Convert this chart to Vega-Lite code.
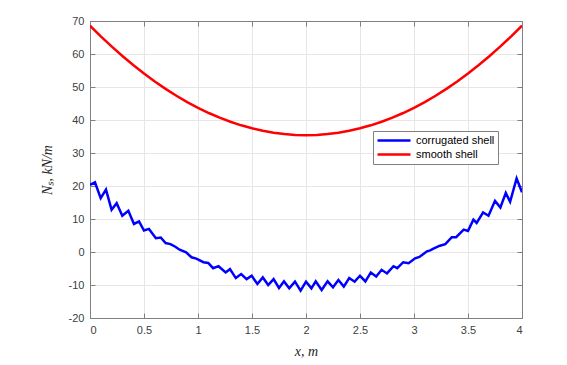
{
  "$schema": "https://vega.github.io/schema/vega-lite/v6.json",
  "autosize": "none",
  "width": 432,
  "height": 297,
  "padding": {"left": 90, "top": 21, "right": 45, "bottom": 47},
  "background": "white",
  "config": {
    "view": {"stroke": "#808080", "strokeWidth": 1},
    "axis": {
      "domainColor": "#808080",
      "tickColor": "#808080",
      "gridColor": "#e6e6e6",
      "gridWidth": 1,
      "labelFont": "Liberation Sans",
      "labelFontSize": 11,
      "labelColor": "#404040",
      "titleFont": "Liberation Serif",
      "titleFontStyle": "italic",
      "titleFontWeight": "normal",
      "titleFontSize": 14,
      "titleColor": "#262626"
    }
  },
  "data": {"values": [
    {"x": 0.0, "N": 20.3, "s": "corrugated shell"},
    {"x": 0.046, "N": 21.1, "s": "corrugated shell"},
    {"x": 0.099, "N": 16.3, "s": "corrugated shell"},
    {"x": 0.148, "N": 18.9, "s": "corrugated shell"},
    {"x": 0.2, "N": 12.8, "s": "corrugated shell"},
    {"x": 0.247, "N": 14.8, "s": "corrugated shell"},
    {"x": 0.299, "N": 11.0, "s": "corrugated shell"},
    {"x": 0.355, "N": 12.5, "s": "corrugated shell"},
    {"x": 0.407, "N": 8.5, "s": "corrugated shell"},
    {"x": 0.454, "N": 9.3, "s": "corrugated shell"},
    {"x": 0.5, "N": 6.5, "s": "corrugated shell"},
    {"x": 0.546, "N": 7.0, "s": "corrugated shell"},
    {"x": 0.61, "N": 4.2, "s": "corrugated shell"},
    {"x": 0.655, "N": 4.4, "s": "corrugated shell"},
    {"x": 0.70, "N": 2.7, "s": "corrugated shell"},
    {"x": 0.745, "N": 2.4, "s": "corrugated shell"},
    {"x": 0.79, "N": 1.6, "s": "corrugated shell"},
    {"x": 0.83, "N": 0.7, "s": "corrugated shell"},
    {"x": 0.89, "N": -0.1, "s": "corrugated shell"},
    {"x": 0.94, "N": -1.6, "s": "corrugated shell"},
    {"x": 0.985, "N": -2.0, "s": "corrugated shell"},
    {"x": 1.05, "N": -3.1, "s": "corrugated shell"},
    {"x": 1.095, "N": -3.3, "s": "corrugated shell"},
    {"x": 1.14, "N": -4.9, "s": "corrugated shell"},
    {"x": 1.19, "N": -4.3, "s": "corrugated shell"},
    {"x": 1.256, "N": -6.2, "s": "corrugated shell"},
    {"x": 1.296, "N": -5.2, "s": "corrugated shell"},
    {"x": 1.35, "N": -7.9, "s": "corrugated shell"},
    {"x": 1.40, "N": -6.7, "s": "corrugated shell"},
    {"x": 1.45, "N": -8.2, "s": "corrugated shell"},
    {"x": 1.497, "N": -7.2, "s": "corrugated shell"},
    {"x": 1.55, "N": -9.7, "s": "corrugated shell"},
    {"x": 1.60, "N": -7.7, "s": "corrugated shell"},
    {"x": 1.65, "N": -10.0, "s": "corrugated shell"},
    {"x": 1.70, "N": -8.2, "s": "corrugated shell"},
    {"x": 1.75, "N": -10.9, "s": "corrugated shell"},
    {"x": 1.796, "N": -8.9, "s": "corrugated shell"},
    {"x": 1.845, "N": -11.0, "s": "corrugated shell"},
    {"x": 1.898, "N": -9.0, "s": "corrugated shell"},
    {"x": 1.95, "N": -11.7, "s": "corrugated shell"},
    {"x": 2.0, "N": -9.0, "s": "corrugated shell"},
    {"x": 2.05, "N": -11.0, "s": "corrugated shell"},
    {"x": 2.09, "N": -8.9, "s": "corrugated shell"},
    {"x": 2.145, "N": -11.5, "s": "corrugated shell"},
    {"x": 2.2, "N": -8.9, "s": "corrugated shell"},
    {"x": 2.25, "N": -10.7, "s": "corrugated shell"},
    {"x": 2.3, "N": -8.5, "s": "corrugated shell"},
    {"x": 2.35, "N": -10.5, "s": "corrugated shell"},
    {"x": 2.4, "N": -7.9, "s": "corrugated shell"},
    {"x": 2.45, "N": -9.0, "s": "corrugated shell"},
    {"x": 2.5, "N": -7.2, "s": "corrugated shell"},
    {"x": 2.55, "N": -8.9, "s": "corrugated shell"},
    {"x": 2.6, "N": -6.2, "s": "corrugated shell"},
    {"x": 2.65, "N": -7.4, "s": "corrugated shell"},
    {"x": 2.7, "N": -5.4, "s": "corrugated shell"},
    {"x": 2.75, "N": -6.5, "s": "corrugated shell"},
    {"x": 2.81, "N": -4.3, "s": "corrugated shell"},
    {"x": 2.845, "N": -4.9, "s": "corrugated shell"},
    {"x": 2.9, "N": -3.1, "s": "corrugated shell"},
    {"x": 2.95, "N": -3.4, "s": "corrugated shell"},
    {"x": 3.01, "N": -1.9, "s": "corrugated shell"},
    {"x": 3.05, "N": -1.5, "s": "corrugated shell"},
    {"x": 3.12, "N": 0.2, "s": "corrugated shell"},
    {"x": 3.15, "N": 0.5, "s": "corrugated shell"},
    {"x": 3.18, "N": 1.0, "s": "corrugated shell"},
    {"x": 3.24, "N": 1.9, "s": "corrugated shell"},
    {"x": 3.29, "N": 2.4, "s": "corrugated shell"},
    {"x": 3.35, "N": 4.5, "s": "corrugated shell"},
    {"x": 3.39, "N": 4.5, "s": "corrugated shell"},
    {"x": 3.46, "N": 6.8, "s": "corrugated shell"},
    {"x": 3.5, "N": 6.4, "s": "corrugated shell"},
    {"x": 3.55, "N": 9.8, "s": "corrugated shell"},
    {"x": 3.58, "N": 8.8, "s": "corrugated shell"},
    {"x": 3.64, "N": 12.0, "s": "corrugated shell"},
    {"x": 3.69, "N": 11.0, "s": "corrugated shell"},
    {"x": 3.75, "N": 15.5, "s": "corrugated shell"},
    {"x": 3.8, "N": 13.5, "s": "corrugated shell"},
    {"x": 3.85, "N": 17.9, "s": "corrugated shell"},
    {"x": 3.89, "N": 15.2, "s": "corrugated shell"},
    {"x": 3.95, "N": 22.3, "s": "corrugated shell"},
    {"x": 4.0, "N": 18.1, "s": "corrugated shell"},
    {"x": 0.0, "N": 68.6, "s": "smooth shell"},
    {"x": 0.1, "N": 65.36, "s": "smooth shell"},
    {"x": 0.2, "N": 62.29, "s": "smooth shell"},
    {"x": 0.3, "N": 59.39, "s": "smooth shell"},
    {"x": 0.4, "N": 56.65, "s": "smooth shell"},
    {"x": 0.5, "N": 54.08, "s": "smooth shell"},
    {"x": 0.6, "N": 51.67, "s": "smooth shell"},
    {"x": 0.7, "N": 49.43, "s": "smooth shell"},
    {"x": 0.8, "N": 47.35, "s": "smooth shell"},
    {"x": 0.9, "N": 45.44, "s": "smooth shell"},
    {"x": 1.0, "N": 43.7, "s": "smooth shell"},
    {"x": 1.1, "N": 42.12, "s": "smooth shell"},
    {"x": 1.2, "N": 40.71, "s": "smooth shell"},
    {"x": 1.3, "N": 39.47, "s": "smooth shell"},
    {"x": 1.4, "N": 38.39, "s": "smooth shell"},
    {"x": 1.5, "N": 37.48, "s": "smooth shell"},
    {"x": 1.6, "N": 36.73, "s": "smooth shell"},
    {"x": 1.7, "N": 36.15, "s": "smooth shell"},
    {"x": 1.8, "N": 35.73, "s": "smooth shell"},
    {"x": 1.9, "N": 35.48, "s": "smooth shell"},
    {"x": 2.0, "N": 35.4, "s": "smooth shell"},
    {"x": 2.1, "N": 35.48, "s": "smooth shell"},
    {"x": 2.2, "N": 35.73, "s": "smooth shell"},
    {"x": 2.3, "N": 36.15, "s": "smooth shell"},
    {"x": 2.4, "N": 36.73, "s": "smooth shell"},
    {"x": 2.5, "N": 37.48, "s": "smooth shell"},
    {"x": 2.6, "N": 38.39, "s": "smooth shell"},
    {"x": 2.7, "N": 39.47, "s": "smooth shell"},
    {"x": 2.8, "N": 40.71, "s": "smooth shell"},
    {"x": 2.9, "N": 42.12, "s": "smooth shell"},
    {"x": 3.0, "N": 43.7, "s": "smooth shell"},
    {"x": 3.1, "N": 45.44, "s": "smooth shell"},
    {"x": 3.2, "N": 47.35, "s": "smooth shell"},
    {"x": 3.3, "N": 49.43, "s": "smooth shell"},
    {"x": 3.4, "N": 51.67, "s": "smooth shell"},
    {"x": 3.5, "N": 54.08, "s": "smooth shell"},
    {"x": 3.6, "N": 56.65, "s": "smooth shell"},
    {"x": 3.7, "N": 59.39, "s": "smooth shell"},
    {"x": 3.8, "N": 62.29, "s": "smooth shell"},
    {"x": 3.9, "N": 65.36, "s": "smooth shell"},
    {"x": 4.0, "N": 68.6, "s": "smooth shell"}
  ]},
  "resolve": {"axis": {"x": "independent", "y": "independent"}},
  "layer": [
    {
      "mark": {"type": "line", "strokeWidth": 2.5, "clip": true},
      "encoding": {
        "x": {
          "field": "x", "type": "quantitative",
          "scale": {"domain": [0, 4], "nice": false},
          "axis": {"title": "x, m", "values": [0, 0.5, 1, 1.5, 2, 2.5, 3, 3.5, 4], "format": "~g",
                   "tickSize": -5, "labelPadding": 11, "titlePadding": 9}
        },
        "y": {
          "field": "N", "type": "quantitative",
          "scale": {"domain": [-20, 70], "nice": false},
          "axis": {"title": "Nₛ, kN/m", "values": [-20, -10, 0, 10, 20, 30, 40, 50, 60, 70],
                   "labelExpr": "replace(datum.label, '\u2212', '-')",
                   "tickSize": -5, "labelPadding": 11, "titlePadding": 14}
        },
        "color": {
          "field": "s", "type": "nominal",
          "scale": {"domain": ["corrugated shell", "smooth shell"], "range": ["#0000ff", "#ff0000"]},
          "legend": {
            "title": null, "orient": "none", "legendX": 283, "legendY": 110,
            "symbolType": "stroke", "symbolSize": 1089, "symbolStrokeWidth": 2.5,
            "labelFont": "Liberation Sans", "labelFontSize": 11, "labelColor": "#000000",
            "labelOffset": 4, "padding": 3, "rowPadding": 1, "clipHeight": 13,
            "fillColor": "white", "strokeColor": "#808080"
          }
        }
      }
    },
    {
      "mark": {"type": "line", "opacity": 0},
      "encoding": {
        "x": {
          "field": "x", "type": "quantitative",
          "axis": {"orient": "top", "title": null, "labels": false, "grid": false,
                   "values": [0, 0.5, 1, 1.5, 2, 2.5, 3, 3.5, 4], "tickSize": -5}
        },
        "y": {
          "field": "N", "type": "quantitative",
          "axis": {"orient": "right", "title": null, "labels": false, "grid": false,
                   "values": [-20, -10, 0, 10, 20, 30, 40, 50, 60, 70], "tickSize": -5}
        },
        "detail": {"field": "s", "type": "nominal"}
      }
    }
  ]
}
